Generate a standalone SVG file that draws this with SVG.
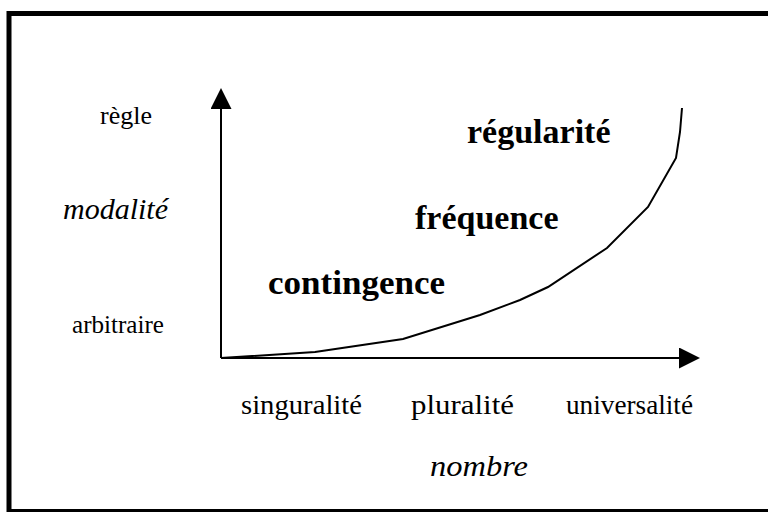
<svg xmlns="http://www.w3.org/2000/svg" width="768" height="512" viewBox="0 0 768 512">
  <style>
    .r { font-family: "Liberation Serif", "Times New Roman", serif; font-size: 26px; fill: #000; }
    .rb { font-family: "Liberation Serif", "Times New Roman", serif; font-size: 28px; fill: #000; }
    .i { font-family: "Liberation Serif", "Times New Roman", serif; font-size: 30px; font-style: italic; fill: #000; }
    .b { font-family: "Liberation Serif", "Times New Roman", serif; font-size: 34px; font-weight: bold; fill: #000; }
    .axis { stroke: #000; stroke-width: 2; fill: none; }
  </style>
  <defs>
    <marker id="arr" viewBox="0 0 21 21" refX="0" refY="10.5" markerWidth="21" markerHeight="21" markerUnits="userSpaceOnUse" orient="auto">
      <path d="M0,0 L21,10.5 L0,21 Z" fill="#000"/>
    </marker>
  </defs>
  <rect x="0" y="0" width="768" height="512" fill="#fff"/>
  <rect id="frame" x="9" y="13.5" width="780" height="498" fill="none" stroke="#000" stroke-width="5"/>
  <g id="connectors">
    <path class="axis" d="M221,358 L221,109" marker-end="url(#arr)"/>
    <path class="axis" d="M221,358 L679,358" marker-end="url(#arr)"/>
    <polyline class="axis" points="221,358 315,352 403,339 480,315 520,300 548,287 607,248 648,207 676,158 680,132 682,108"/>
  </g>
  <g id="axis-labels-y">
    <text class="r" x="100" y="124">règle</text>
    <text class="i" x="63" y="219">modalité</text>
    <text class="r" x="72" y="333" textLength="92" lengthAdjust="spacingAndGlyphs">arbitraire</text>
  </g>
  <g id="curve-labels">
    <text class="b" x="467" y="143">régularité</text>
    <text class="b" x="415" y="229">fréquence</text>
    <text class="b" x="268" y="294" textLength="177" lengthAdjust="spacingAndGlyphs">contingence</text>
  </g>
  <g id="axis-labels-x">
    <text class="rb" x="241" y="414" textLength="121" lengthAdjust="spacingAndGlyphs">singuralité</text>
    <text class="rb" x="411" y="414" textLength="103" lengthAdjust="spacingAndGlyphs">pluralité</text>
    <text class="rb" x="566" y="414" textLength="127" lengthAdjust="spacingAndGlyphs">universalité</text>
    <text class="i" x="430" y="476" textLength="98" lengthAdjust="spacingAndGlyphs">nombre</text>
  </g>
</svg>
